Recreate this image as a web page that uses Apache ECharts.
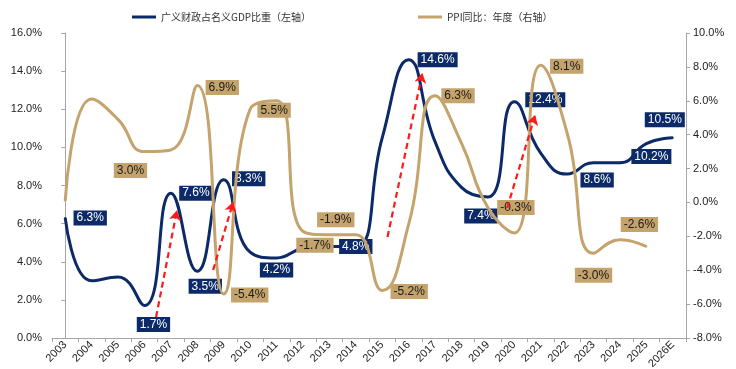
<!DOCTYPE html>
<html>
<head>
<meta charset="utf-8">
<script src="https://cdn.jsdelivr.net/npm/echarts@6/dist/echarts.min.js"></script>
<style>html,body{margin:0;padding:0;background:#fff;}#c{width:736px;height:369px;}</style>
</head>
<body>
<div id="c"></div>
<script>
// ---------- data ----------
var years = ['2003','2004','2005','2006','2007','2008','2009','2010','2011','2012','2013','2014','2015','2016','2017','2018','2019','2020','2021','2022','2023','2024','2025','2026E'];
var fiscalRatio = [6.3, 3.0, 3.2, 1.7, 7.6, 3.5, 8.3, 4.5, 4.2, 4.7, 4.8, 4.8, 10.5, 14.6, 10.3, 7.9, 7.4, 12.4, 9.7, 8.6, 9.2, 9.2, 10.2, 10.5];
var ppiYoY = [0.1, 6.1, 4.9, 3.0, 3.1, 6.9, -5.4, 5.5, 6.0, -1.7, -1.9, -1.9, -5.2, -1.3, 6.3, 3.5, -0.3, -1.8, 8.1, 4.1, -3.0, -2.2, -2.6, null];
var leftTicks = {min: 0, max: 16, interval: 2};
var rightTicks = {min: -8, max: 10, interval: 2};
var seriesNames = ['广义财政占名义GDP比重（左轴）', 'PPI同比：年度（右轴）'];
// annotation arrows: [startIndex, startValue(left axis)], [endIndex, endValue]
var arrows = [
  [[3.44, 1.1], [4.23, 6.7]],
  [[5.6, 3.57], [6.36, 7.14]],
  [[12.2, 5.3], [13.52, 13.9]],
  [[16.73, 6.82], [17.79, 11.7]]
];

// ---------- label styling (which points are labelled, offset) ----------
var blueLabels = {0:[25,0],3:[9,19],4:[25,0],5:[8,15],6:[25,-1],8:[0,12],11:[0,0],13:[29,0],16:[-7,19],17:[31,-2],19:[30,6],22:[5,13],23:[-8,-18]};
var goldLabels = {3:[-14,19],5:[25,2],6:[26,1],7:[24,1],9:[12,14],11:[-20,-15],12:[27,1],14:[23,0],16:[28,0],18:[26,1],20:[0,22],22:[-7,-22]};

var BLUE = '#0c2a68', GOLD = '#c4a36c';

function buildData(vals, labels, boxColor, textColor) {
  return vals.map(function (v, i) {
    var l = labels[i];
    if (!l || v == null) return {value: v, label: {show: false}};
    return {
      value: v,
      label: {
        show: true, position: 'inside', offset: [l[0], l[1]],
        formatter: function (p) { return p.value.toFixed(1) + '%'; },
        backgroundColor: boxColor, color: textColor,
        fontFamily: 'Liberation Sans, Arial, sans-serif', fontSize: 12,
        padding: [1, 3], lineHeight: 13
      }
    };
  });
}

var chart = echarts.init(document.getElementById('c'), null, {renderer: 'canvas'});
var pctFmt = function (v) { return v.toFixed(1) + '%'; };
var axisLabelStyle = {color: '#222', fontFamily: 'Liberation Sans, Arial, sans-serif', fontSize: 11};

var option = {
  animation: false,
  backgroundColor: '#fff',
  legend: [
    {data: [seriesNames[0]], left: 127, top: 7, icon: 'rect', itemWidth: 24, itemHeight: 3, itemGap: 4,
     textStyle: {fontSize: 10, color: '#333', fontFamily: 'Noto Sans CJK SC, sans-serif'}},
    {data: [seriesNames[1]], left: 413, top: 7, icon: 'rect', itemWidth: 24, itemHeight: 3, itemGap: 4,
     textStyle: {fontSize: 10, color: '#333', fontFamily: 'Noto Sans CJK SC, sans-serif'}}
  ],
  grid: {left: 52, right: 50, top: 33, bottom: 31, containLabel: false, outerBoundsMode: 'none'},
  xAxis: [
    {type: 'category', data: years, boundaryGap: true,
     axisLine: {lineStyle: {color: '#a6a6a6'}},
     axisTick: {show: true, length: 4, alignWithLabel: false, lineStyle: {color: '#a6a6a6'}},
     axisLabel: Object.assign({rotate: 45, margin: 5, interval: 0}, axisLabelStyle)},
    {type: 'value', min: -0.5, max: years.length - 0.5, show: false}
  ],
  yAxis: [
    {type: 'value', min: leftTicks.min, max: leftTicks.max, interval: leftTicks.interval,
     splitLine: {show: false},
     axisLine: {show: true, lineStyle: {color: '#a6a6a6'}},
     axisTick: {show: true, length: 4, lineStyle: {color: '#a6a6a6'}},
     axisLabel: Object.assign({formatter: pctFmt, margin: 10}, axisLabelStyle)},
    {type: 'value', min: rightTicks.min, max: rightTicks.max, interval: rightTicks.interval, position: 'right',
     splitLine: {show: false},
     axisLine: {show: true, lineStyle: {color: '#a6a6a6'}},
     axisTick: {show: true, length: 4, lineStyle: {color: '#a6a6a6'}},
     axisLabel: Object.assign({formatter: pctFmt, margin: 7}, axisLabelStyle)}
  ],
  series: [
    {name: seriesNames[0], type: 'line', xAxisIndex: 0, yAxisIndex: 0, smooth: 0.5,
     data: buildData(fiscalRatio, blueLabels, BLUE, '#ffffff'),
     symbol: 'circle', symbolSize: 2, showSymbol: true,
     itemStyle: {color: BLUE}, lineStyle: {color: BLUE, width: 3}, z: 3},
    {name: seriesNames[1], type: 'line', xAxisIndex: 0, yAxisIndex: 1, smooth: 0.5,
     data: buildData(ppiYoY, goldLabels, GOLD, '#1a1a1a'),
     symbol: 'circle', symbolSize: 2, showSymbol: true, connectNulls: false,
     itemStyle: {color: GOLD}, lineStyle: {color: GOLD, width: 3}, z: 4},
    {name: 'arrows', type: 'line', xAxisIndex: 1, yAxisIndex: 0, data: [], silent: true, z: 5,
     markLine: {silent: true, symbol: ['none', 'arrow'], symbolSize: [9, 10], animation: false,
       label: {show: false},
       lineStyle: {color: '#ff1a1a', type: [6, 4], width: 2.2},
       data: arrows.map(function (a) { return [{coord: a[0]}, {coord: a[1]}]; })}}
  ]
};
chart.setOption(option);
</script>
</body>
</html>
